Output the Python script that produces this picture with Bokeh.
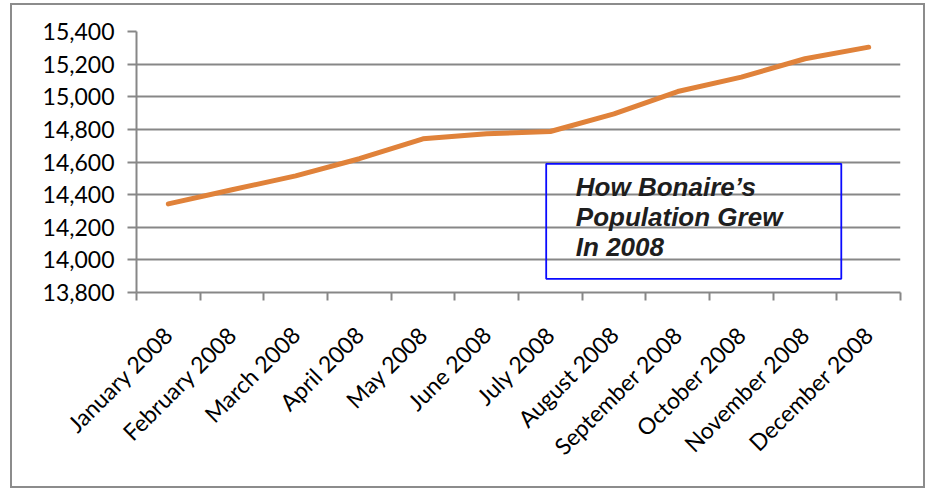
from bokeh.plotting import figure
from bokeh.models import Range1d, FixedTicker, BoxAnnotation, Label, NumeralTickFormatter
from bokeh.embed import file_html
from bokeh.resources import INLINE

months = ["January 2008", "February 2008", "March 2008", "April 2008", "May 2008",
          "June 2008", "July 2008", "August 2008", "September 2008", "October 2008",
          "November 2008", "December 2008"]
population = [14343, 14430, 14515, 14620, 14742, 14773, 14787, 14895, 15032, 15120, 15233, 15304]
y_ticks = [13800, 14000, 14200, 14400, 14600, 14800, 15000, 15200, 15400]
title_lines = ["How Bonaire\u2019s", "Population Grew", "In 2008"]

xs = [i + 0.5 for i in range(len(months))]

p = figure(width=915, height=485, output_backend="svg", toolbar_location=None,
           x_range=Range1d(0, len(months)), y_range=Range1d(13800, 15400),
           min_border_left=124, min_border_right=27, min_border_top=26, min_border_bottom=198)
p.styles = {"border": "2px solid #8c8c8c", "margin-left": "10px", "margin-top": "3px"}
p.outline_line_color = None
p.background_fill_color = "white"
p.border_fill_color = "white"

grey = "#878787"
# y axis
p.yaxis.ticker = FixedTicker(ticks=y_ticks)
p.yaxis.formatter = NumeralTickFormatter(format="0,0")
p.yaxis.axis_line_color = grey
p.yaxis.axis_line_width = 2
p.yaxis.major_tick_line_color = grey
p.yaxis.major_tick_line_width = 2
p.yaxis.major_tick_out = 9
p.yaxis.major_tick_in = 0
p.yaxis.minor_tick_line_color = None
p.yaxis.major_label_text_font = "Lato"
p.yaxis.major_label_text_font_size = "23px"
p.yaxis.major_label_text_color = "#000000"
p.yaxis.major_label_standoff = 13

p.ygrid.ticker = FixedTicker(ticks=y_ticks)
p.ygrid.grid_line_color = grey
p.ygrid.grid_line_width = 2
p.xgrid.grid_line_color = None

# x axis
p.xaxis.ticker = FixedTicker(ticks=xs, minor_ticks=list(range(len(months) + 1)))
p.xaxis.major_label_overrides = {x: m for x, m in zip(xs, months)}
p.xaxis.major_label_orientation = 0.785398
p.xaxis.axis_line_color = grey
p.xaxis.axis_line_width = 2
p.xaxis.major_tick_line_color = None
p.xaxis.minor_tick_line_color = grey
p.xaxis.minor_tick_line_width = 2
p.xaxis.minor_tick_out = 8
p.xaxis.minor_tick_in = 0
p.xaxis.major_label_text_font = "Lato"
p.xaxis.major_label_text_font_size = "23px"
p.xaxis.major_label_text_color = "#000000"
p.xaxis.major_label_standoff = 30

p.line(xs, population, line_color="#E0823A", line_width=5, line_cap="round", line_join="round")

box = BoxAnnotation(left=6.435, right=11.07, top=14589, bottom=13884,
                    fill_alpha=0, line_color="#0a0aff", line_alpha=1.0, line_width=1.8)
p.add_layout(box)

for ly, txt in zip([14447, 14264, 14081], title_lines):
    p.add_layout(Label(x=6.9, y=ly, text=txt, text_font="Liberation Sans",
                       text_font_style="bold italic", text_font_size="26px",
                       text_color="#1e1e1e", text_baseline="alphabetic"))

open("out.html", "w").write(file_html(p, INLINE))
